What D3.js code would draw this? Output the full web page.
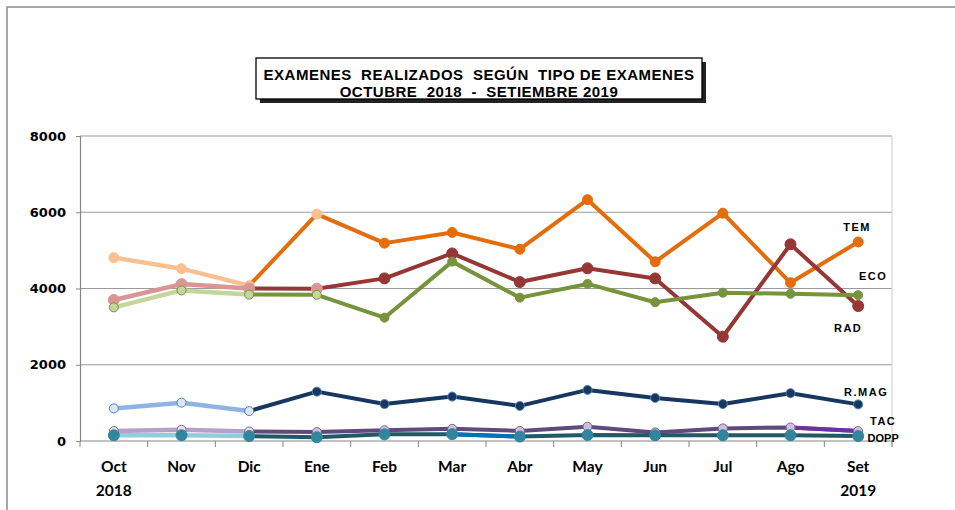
<!DOCTYPE html>
<html>
<head>
<meta charset="utf-8">
<script src="https://cdn.jsdelivr.net/npm/d3@7"></script>
<style>
  body { margin: 0; background: #fff; }
  svg { display: block; }
</style>
</head>
<body>
<div id="chart"></div>
<script>
// months and year labels
var months = ["Oct", "Nov", "Dic", "Ene", "Feb", "Mar", "Abr", "May", "Jun", "Jul", "Ago", "Set"];
var years = ["2018", "", "", "", "", "", "", "", "", "", "", "2019"];
var yTicks = [0, 2000, 4000, 6000, 8000];

// values
var tem  = [4810, 4520, 4075, 5950, 5190, 5470, 5030, 6330, 4700, 5975, 4150, 5220];
var rad  = [3700, 4115, 4000, 3995, 4265, 4920, 4170, 4530, 4265, 2735, 5160, 3540];
var eco  = [3505, 3950, 3840, 3835, 3235, 4705, 3760, 4120, 3640, 3890, 3860, 3825];
var rmag = [855, 1005, 785, 1295, 970, 1165, 920, 1340, 1130, 970, 1255, 960];
var tac  = [260, 295, 250, 235, 285, 320, 265, 375, 225, 330, 355, 260];
var dopp = [150, 150, 130, 100, 175, 180, 115, 155, 150, 150, 150, 130];

var series = [
  {name: "TEM", values: tem, dark: "#E46C0A", light: "#FAC090", mk: "#E46C0A", mkStroke: "#E46C0A",
   lightMk: "#FAC090", lightMkStroke: "#FAC090", lightN: 4, r: 5, ls: 1.5, lx: -1, ly: -11},
  {name: "RAD", values: rad, dark: "#953735", light: "#D99694", mk: "#953735", mkStroke: "#953735",
   lightMk: "#D99694", lightMkStroke: "#D99694", lightN: 4, r: 5.5, ls: 1.5, lx: -10, ly: 26},
  {name: "ECO", values: eco, dark: "#77933C", light: "#C3D69B", mk: "#77933C", mkStroke: "#77933C",
   lightMk: "#C3D69B", lightMkStroke: "#77933C", lightN: 4, r: 4.5, ls: 1.5, lx: 15, ly: -15},
  {name: "R.MAG", values: rmag, dark: "#17375E", light: "#8EB4E3", mk: "#17375E", mkStroke: "#4F81BD",
   lightMk: "#DCE6F2", lightMkStroke: "#4F81BD", lightN: 3, r: 4.5, ls: 1.5, lx: 8, ly: -8},
  {name: "TAC", values: tac, dark: "#604A7B", light: "#B3A2C7", mk: "#CCC1DA", mkStroke: "#8064A2",
   lightMk: "#E5E0EC", lightMkStroke: "#8064A2", lightN: 3, r: 4.5, ls: 1.5, lx: 25, ly: -6,
   seg: [[10, 11, "#7030A0"]]},
  {name: "DOPP", values: dopp, dark: "#215968", light: "#93CDDD", mk: "#31859C", mkStroke: "#31859C",
   lightMk: "#31859C", lightMkStroke: "#31859C", lightN: 3, r: 5.5, ls: 0, lx: 25, ly: 6,
   seg: [[5, 6, "#0070C0"]]}
];

var width = 955, height = 510;
var margin = {top: 136, right: 63, bottom: 69, left: 80};
var chartW = width - margin.left - margin.right,
    chartH = height - margin.top - margin.bottom;

var svg = d3.select("#chart").append("svg")
    .attr("width", width)
    .attr("height", height);

// outer frame
svg.append("rect")
    .attr("x", 7).attr("y", 7)
    .attr("width", 980).attr("height", 540)
    .attr("fill", "none")
    .attr("stroke", "#8a8a8a")
    .attr("stroke-width", 1.5);

// title box with shadow
var tb = {x: 256, y: 58, w: 446, h: 41};
svg.append("rect")
    .attr("x", tb.x + 4).attr("y", tb.y + 4)
    .attr("width", tb.w).attr("height", tb.h)
    .attr("fill", "#222");
svg.append("rect")
    .attr("x", tb.x).attr("y", tb.y)
    .attr("width", tb.w).attr("height", tb.h)
    .attr("fill", "#fff")
    .attr("stroke", "#000")
    .attr("stroke-width", 1.3);
var title = svg.append("text")
    .attr("text-anchor", "middle")
    .style("font-family", "'Liberation Sans', Arial, sans-serif")
    .style("font-weight", "bold")
    .style("font-size", "15px")
    .style("letter-spacing", "0.5px")
    .attr("fill", "#000");
title.append("tspan").attr("x", tb.x + tb.w / 2).attr("y", 80)
    .text("EXAMENES\u00a0\u00a0REALIZADOS\u00a0\u00a0SEGÚN\u00a0\u00a0TIPO DE EXAMENES");
title.append("tspan").attr("x", tb.x + tb.w / 2).attr("y", 96.5)
    .text("OCTUBRE\u00a0\u00a02018\u00a0\u00a0-\u00a0\u00a0SETIEMBRE 2019");

var g = svg.append("g")
    .attr("transform", "translate(" + margin.left + "," + margin.top + ")");

var x = d3.scaleBand().domain(months).range([0, chartW]);
var y = d3.scaleLinear().domain([0, 8000]).range([chartH, 0]);
var cx = function(i) { return x(months[i]) + x.bandwidth() / 2; };

// gridlines
g.append("g").selectAll("line")
    .data(yTicks.filter(function(d) { return d > 0; }))
    .enter().append("line")
    .attr("x1", 0).attr("x2", chartW)
    .attr("y1", function(d) { return y(d); })
    .attr("y2", function(d) { return y(d); })
    .attr("stroke", "#9a9a9a")
    .attr("stroke-width", 1.2);

// right border of plot area
g.append("line")
    .attr("x1", chartW).attr("x2", chartW)
    .attr("y1", 0).attr("y2", chartH + 6)
    .attr("stroke", "#d4d4d4")
    .attr("stroke-width", 1.2);

// y axis
var yAxis = g.append("g")
    .call(d3.axisLeft(y).tickValues(yTicks).tickSize(4).tickPadding(10).tickFormat(d3.format("d")));
yAxis.select(".domain").attr("stroke", "#868686").attr("stroke-width", 1.2);
yAxis.selectAll(".tick line").attr("stroke", "#868686");
yAxis.selectAll("text")
    .style("font-family", "'DejaVu Sans', Verdana, sans-serif")
    .style("font-weight", "bold")
    .style("font-size", "13px")
    .attr("fill", "#000");

// x axis: ticks at band boundaries
var xg = g.append("g").attr("transform", "translate(0," + chartH + ")");
xg.append("line")
    .attr("x1", 0).attr("x2", chartW)
    .attr("stroke", "#868686").attr("stroke-width", 1.2);
xg.selectAll(".xtick")
    .data(d3.range(months.length + 1))
    .enter().append("line")
    .attr("class", "xtick")
    .attr("x1", function(i) { return i * x.step(); })
    .attr("x2", function(i) { return i * x.step(); })
    .attr("y1", 0).attr("y2", 6)
    .attr("stroke", "#868686");
var xl = xg.selectAll(".xlab")
    .data(months)
    .enter().append("text")
    .attr("class", "xlab")
    .attr("text-anchor", "middle")
    .attr("x", function(d, i) { return cx(i); })
    .style("font-family", "Lato, 'Liberation Sans', sans-serif")
    .style("font-weight", "bold")
    .style("font-size", "15.5px")
    .attr("fill", "#000");
xl.append("tspan").attr("x", function(d, i) { return cx(i); }).attr("y", 31).text(function(d) { return d; });
xl.append("tspan").attr("x", function(d, i) { return cx(i); }).attr("y", 55).text(function(d, i) { return years[i]; });

var line = d3.line()
    .x(function(d) { return cx(d.i); })
    .y(function(d) { return y(d.v); });

series.forEach(function(s) {
  var pts = s.values.map(function(v, i) { return {i: i, v: v}; });
  var sg = g.append("g").attr("class", "series");

  // dark line from Dic on
  sg.append("path")
      .attr("d", line(pts.slice(2)))
      .attr("fill", "none")
      .attr("stroke", s.dark)
      .attr("stroke-width", 4)
      .attr("stroke-linejoin", "round");
  (s.seg || []).forEach(function(sgm) {
    sg.append("path")
        .attr("d", line(pts.slice(sgm[0], sgm[1] + 1)))
        .attr("fill", "none")
        .attr("stroke", sgm[2])
        .attr("stroke-width", 4);
  });
  // light line Oct-Dic
  sg.append("path")
      .attr("d", line(pts.slice(0, 3)))
      .attr("fill", "none")
      .attr("stroke", s.light)
      .attr("stroke-width", 4.5)
      .attr("stroke-linejoin", "round");

  sg.selectAll("circle")
      .data(pts)
      .enter().append("circle")
      .attr("cx", function(d) { return cx(d.i); })
      .attr("cy", function(d) { return y(d.v); })
      .attr("r", s.r)
      .attr("fill", function(d) { return d.i < s.lightN ? s.lightMk : s.mk; })
      .attr("stroke", function(d) { return d.i < s.lightN ? s.lightMkStroke : s.mkStroke; })
      .attr("stroke-width", 1);

  var last = pts[pts.length - 1];
  sg.append("text")
      .attr("x", cx(last.i) + s.lx)
      .attr("y", y(last.v) + s.ly)
      .attr("text-anchor", "middle")
      .style("font-family", "'Liberation Sans', Arial, sans-serif")
      .style("font-weight", "bold")
      .style("font-size", "11px")
      .style("letter-spacing", s.ls + "px")
      .attr("fill", "#000")
      .text(s.name);
});
</script>
</body>
</html>
